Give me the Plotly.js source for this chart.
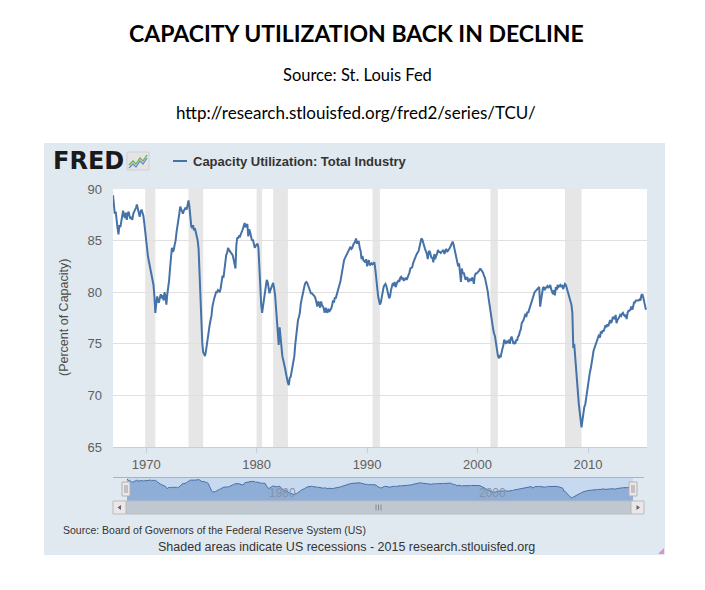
<!DOCTYPE html>
<html>
<head>
<meta charset="utf-8">
<script src="https://cdn.plot.ly/plotly-3.0.1.min.js"></script>
<style>
  html, body { margin: 0; padding: 0; background: #ffffff; }
  #chart { width: 705px; height: 590px; }
</style>
</head>
<body>
<div id="chart"></div>
<script>
// ---- Data: Capacity Utilization: Total Industry (TCU), monthly, % of capacity ----
const startYear = 1967;
const tcu1960s = [
  89.4, 88.0, 87.6, 87.8, 86.6, 86.2, 85.6, 86.5, 86.3, 86.9, 87.6, 87.9,
  87.4, 87.2, 87.7, 87.0, 87.6, 87.8, 87.4, 87.1, 87.3, 87.0, 87.6, 87.9,
  88.0, 88.2, 88.5, 88.1, 87.6, 87.3, 87.8, 88.0, 87.7, 87.4, 86.7, 85.9
];
const tcu1970s = [
  84.6, 84.0, 83.5, 83.0, 82.6, 82.1, 81.8, 81.4, 80.7, 79.6, 78.0, 78.9,
  79.6, 79.1, 79.0, 79.5, 79.8, 79.4, 79.7, 79.2, 80.0, 79.6, 78.8, 79.8,
  80.3, 81.2, 82.3, 83.2, 84.3, 83.9, 84.1, 84.6, 85.0, 85.8, 86.6, 87.2,
  87.6, 88.3, 88.0, 87.8, 87.6, 87.9, 88.1, 88.2, 88.0, 88.5, 88.9, 88.3,
  87.0, 86.4, 86.2, 86.5, 86.0, 86.2, 85.8, 85.4, 85.0, 84.2, 81.8, 78.9,
  76.4, 75.0, 74.2, 74.0, 73.8, 74.3, 75.0, 75.8, 76.5, 76.8, 77.3, 77.7,
  78.6, 79.3, 79.4, 79.7, 80.0, 80.0, 80.2, 80.1, 80.0, 80.4, 81.2, 81.6,
  81.4, 82.3, 83.0, 83.6, 83.8, 84.3, 84.1, 84.0, 83.8, 83.7, 83.6, 83.2,
  82.5, 82.3, 84.5, 85.3, 85.2, 85.5, 85.4, 85.6, 85.8, 86.1, 86.4, 86.7,
  86.3, 86.5, 86.6, 85.4, 86.1, 85.8, 85.5, 85.0, 85.1, 84.7, 84.3, 84.5
];
const tcu1980s = [
  84.6, 84.7, 84.3, 82.3, 80.3, 78.8, 78.0, 78.6, 79.4, 80.1, 80.8, 81.2,
  81.0, 80.5, 79.9, 80.2, 80.5, 80.8, 80.9, 80.4, 79.8, 78.6, 77.3, 76.2,
  74.9, 76.6, 75.6, 74.6, 73.8, 73.4, 73.1, 72.6, 72.1, 71.5, 71.2, 71.0,
  71.7, 71.8, 72.2, 72.9, 73.4, 73.8, 74.9, 75.9, 76.8, 77.3, 77.6, 78.0,
  78.9, 79.4, 79.8, 80.2, 80.6, 80.9, 81.0, 80.9, 80.6, 80.3, 80.2, 79.9,
  79.9, 79.8, 79.8, 79.6, 79.4, 79.0, 78.6, 79.1, 78.9, 78.5, 79.1, 78.8,
  78.6, 78.4, 78.0, 78.5, 78.2, 78.0, 78.4, 78.1, 78.3, 78.4, 78.7, 79.2,
  79.0, 79.5, 79.4, 79.8, 80.0, 80.3, 80.7, 81.0, 81.6, 82.2, 82.6, 83.1,
  83.3, 83.5, 83.6, 83.8, 84.0, 84.3, 84.4, 84.2, 84.3, 84.6, 84.7, 84.9,
  85.2, 84.7, 84.9, 84.9, 84.3, 84.0, 83.2, 83.5, 83.1, 83.0, 82.9, 83.2
];
const tcu1990s = [
  82.5, 82.9, 83.1, 82.6, 82.7, 82.8, 82.7, 82.8, 82.9, 82.2, 81.0, 80.2,
  79.6, 79.2, 78.8, 79.0, 79.6, 80.2, 80.5, 80.7, 80.8, 80.6, 80.3, 79.8,
  79.4, 79.6, 80.2, 80.6, 80.9, 80.6, 81.0, 80.5, 80.8, 81.0, 81.1, 81.0,
  81.4, 81.5, 81.3, 81.4, 81.1, 81.2, 81.4, 81.2, 81.4, 81.7, 81.9, 82.3,
  82.4, 82.4, 82.8, 83.1, 83.4, 83.5, 83.7, 83.9, 84.0, 84.4, 84.8, 85.2,
  85.1, 84.6, 84.5, 84.2, 84.0, 83.7, 83.2, 83.9, 84.0, 83.5, 83.3, 83.4,
  82.9, 83.7, 83.2, 83.5, 83.7, 84.1, 83.9, 83.9, 83.8, 83.9, 84.0, 84.1,
  83.7, 84.1, 84.2, 83.9, 84.0, 84.1, 84.3, 84.5, 84.7, 84.9, 84.6, 84.2,
  83.5, 83.2, 83.0, 82.5, 82.8, 81.3, 81.0, 82.3, 81.8, 81.9, 81.5, 81.2,
  81.4, 81.4, 81.0, 81.2, 81.3, 81.1, 81.4, 81.3, 80.8, 81.6, 81.8, 81.8
];
const tcu2000s = [
  81.9, 82.0, 82.1, 82.3, 82.2, 82.0, 81.9, 81.6, 81.4, 81.0, 80.6, 80.1,
  79.4, 78.7, 78.3, 77.6, 77.0, 76.4, 76.0, 75.7, 75.1, 74.4, 73.9, 73.6,
  73.8, 73.7, 74.2, 74.5, 74.8, 75.4, 75.2, 75.0, 75.3, 75.1, 75.4, 75.0,
  75.5, 75.7, 75.4, 75.0, 75.1, 75.0, 75.4, 75.3, 75.7, 75.8, 76.2, 76.4,
  77.0, 77.1, 77.3, 77.6, 77.9, 77.6, 78.1, 78.0, 78.3, 78.6, 78.8, 79.2,
  79.4, 79.8, 80.0, 80.1, 80.2, 80.3, 80.4, 80.5, 78.6, 79.4, 80.2, 80.4,
  80.5, 80.2, 80.4, 80.5, 80.6, 80.4, 80.6, 80.7, 80.3, 80.1, 79.8, 80.2,
  79.7, 80.5, 80.2, 80.7, 80.5, 80.6, 80.7, 80.5, 80.7, 80.3, 80.6, 80.8,
  80.7, 80.4, 80.2, 79.8, 79.5, 79.2, 78.8, 78.0, 74.6, 75.0, 73.8, 72.2,
  70.8, 70.1, 69.2, 68.4, 67.8, 66.9, 67.6, 68.3, 68.9, 69.1, 69.8, 70.2
];
const tcu2010s = [
  70.8, 71.5, 72.2, 72.6, 73.4, 73.7, 74.3, 74.6, 74.9, 75.1, 75.4, 75.6,
  75.9, 75.6, 76.2, 76.0, 76.3, 76.2, 76.6, 76.8, 76.6, 76.9, 76.7, 77.2,
  77.3, 77.0, 77.2, 77.6, 77.5, 77.4, 77.8, 77.0, 77.3, 77.4, 77.6, 77.8,
  77.7, 77.9, 78.0, 77.8, 77.7, 77.8, 77.4, 78.0, 78.2, 78.2, 78.3, 78.6,
  78.3, 78.6, 79.0, 79.0, 79.2, 79.2, 79.2, 79.2, 79.3, 79.2, 79.7, 79.8,
  79.5, 79.2, 78.7, 78.3
];
// NBER recessions (shaded)
const recessionStarts = ['1969-12-01', '1973-11-01', '1980-01-01', '1981-07-01', '1990-07-01', '2001-03-01', '2007-12-01'];
const recessionEnds   = ['1970-11-01', '1975-03-01', '1980-07-01', '1982-11-01', '1991-03-01', '2001-11-01', '2009-06-01'];
const yTicks = [65, 70, 75, 80, 85, 90];
const navLabels = ['1980', '2000'];

// ---- build series ----
const values = [].concat(tcu1960s, tcu1970s, tcu1980s, tcu1990s, tcu2000s, tcu2010s);
const dates = values.map((v, i) => {
  const y = startYear + Math.floor(i / 12);
  const m = (i % 12) + 1;
  return y + '-' + (m < 10 ? '0' + m : m) + '-01';
});

// pixel -> paper helpers (plot box: x 113..647, y 189..501)
const PL = 113, PW = 534, PB = 501, PH = 312;
const px = p => (p - PL) / PW;
const py = p => (PB - p) / PH;
const pathOf = (pts, close) => pts.map((q, i) => (i ? 'L' : 'M') + px(q[0]).toFixed(5) + ',' + py(q[1]).toFixed(5)).join(' ') + (close ? ' Z' : '');
const rectP = (x0, y0, x1, y1, fill, lineColor, lw, layer) => ({
  type: 'rect', xref: 'paper', yref: 'paper',
  x0: px(x0), x1: px(x1), y0: py(y1), y1: py(y0),
  fillcolor: fill, line: { color: lineColor || fill, width: lw || 0 }, layer: layer || 'below'
});
const lineP = (x0, y0, x1, y1, color, w) => ({
  type: 'line', xref: 'paper', yref: 'paper',
  x0: px(x0), x1: px(x1), y0: py(y0), y1: py(y1),
  line: { color: color, width: w || 1 }, layer: 'above'
});

const shapes = [];
// FRED panel and plot area
shapes.push(rectP(44, 143, 665, 555, '#e1e9f0'));
shapes.push(rectP(113, 189, 647, 447, '#ffffff'));
// navigator mask
shapes.push(rectP(127, 477, 633, 501, '#c7d9ee'));
// recession bands
recessionStarts.forEach((s, i) => {
  shapes.push({ type: 'rect', xref: 'x', yref: 'y domain', x0: s, x1: recessionEnds[i], y0: 0, y1: 1,
    fillcolor: '#e6e6e6', line: { width: 0 }, layer: 'below' });
});
// navigator top outline
shapes.push(lineP(113, 477.5, 644, 477.5, '#b2b1b6', 1));
// scrollbar
shapes.push(rectP(126, 501, 631, 514, '#bfc8d1', '#b6bec6', 1, 'above'));
shapes.push(rectP(113, 501, 126, 514, '#ebe7e8', '#bbbbbb', 1, 'above'));
shapes.push(rectP(631, 501, 644, 514, '#ebe7e8', '#bbbbbb', 1, 'above'));
shapes.push({ type: 'path', xref: 'paper', yref: 'paper', path: pathOf([[117.5, 507.5], [121, 505], [121, 510]], true),
  fillcolor: '#666666', line: { width: 0 }, layer: 'above' });
shapes.push({ type: 'path', xref: 'paper', yref: 'paper', path: pathOf([[640, 507.5], [636.5, 505], [636.5, 510]], true),
  fillcolor: '#666666', line: { width: 0 }, layer: 'above' });
[376, 378.5, 381].forEach(x => shapes.push(lineP(x, 504.5, x, 510.5, '#8a8a8a', 1)));
// navigator handles
[[122, 130], [629, 637]].forEach(h => {
  shapes.push(rectP(h[0], 482, h[1], 496, '#ebe7e8', '#b2b1b6', 1, 'above'));
  shapes.push(lineP(h[0] + 3, 485, h[0] + 3, 493, '#999999', 1));
  shapes.push(lineP(h[0] + 5, 485, h[0] + 5, 493, '#999999', 1));
});
// legend line
shapes.push(lineP(173, 161, 187, 161, '#4572a7', 2));
// FRED icon
shapes.push(rectP(127, 152, 149, 170, '#e4e4e4', '#d0d0d0', 1, 'above'));
shapes.push({ type: 'path', xref: 'paper', yref: 'paper',
  path: pathOf([[129, 165], [133, 161], [136, 164], [140, 158], [143, 161], [147, 155]]),
  line: { color: '#6fae4f', width: 1.3 }, layer: 'above' });
shapes.push({ type: 'path', xref: 'paper', yref: 'paper',
  path: pathOf([[129, 168], [133, 164], [136, 167], [140, 161], [143, 164], [147, 158]]),
  line: { color: '#5b8fc7', width: 1.3 }, layer: 'above' });
// resize mark
shapes.push({ type: 'path', xref: 'paper', yref: 'paper', path: pathOf([[664, 548], [664, 554], [658, 554]], true),
  fillcolor: '#e58bd0', line: { width: 0 }, layer: 'above' });

const annotations = [
  { text: '<b>CAPACITY UTILIZATION BACK IN DECLINE</b>', x: px(356), y: py(33), xref: 'paper', yref: 'paper',
    showarrow: false, xanchor: 'center', yanchor: 'middle', font: { family: 'Lato', size: 23, color: '#000000' } },
  { text: 'Source: St. Louis Fed', x: px(357), y: py(75), xref: 'paper', yref: 'paper',
    showarrow: false, xanchor: 'center', yanchor: 'middle', font: { family: 'Lato', size: 16.5, color: '#000000' } },
  { text: 'http://research.stlouisfed.org/fred2/series/TCU/', x: px(356), y: py(112), xref: 'paper', yref: 'paper',
    showarrow: false, xanchor: 'center', yanchor: 'middle', font: { family: 'Lato', size: 17, color: '#000000' } },
  { text: '<b>FRED</b>', x: px(51), y: py(161), xref: 'paper', yref: 'paper',
    showarrow: false, xanchor: 'left', yanchor: 'middle', font: { family: 'DejaVu Sans', size: 24, color: '#1a1a1a' } },
  { text: '<b>Capacity Utilization: Total Industry</b>', x: px(191), y: py(161), xref: 'paper', yref: 'paper',
    showarrow: false, xanchor: 'left', yanchor: 'middle', font: { family: 'Liberation Sans', size: 13, color: '#333333' } },
  { text: '(Percent of Capacity)', x: px(64), y: py(318), xref: 'paper', yref: 'paper', textangle: -90,
    showarrow: false, xanchor: 'center', yanchor: 'middle', font: { family: 'Liberation Sans', size: 12.5, color: '#4d4d4d' } },
  { text: 'Source: Board of Governors of the Federal Reserve System (US)', x: px(61), y: py(530), xref: 'paper', yref: 'paper',
    showarrow: false, xanchor: 'left', yanchor: 'middle', font: { family: 'Liberation Sans', size: 10.5, color: '#333333' } },
  { text: 'Shaded areas indicate US recessions - 2015 research.stlouisfed.org', x: px(346), y: py(547), xref: 'paper', yref: 'paper',
    showarrow: false, xanchor: 'center', yanchor: 'middle', font: { family: 'Liberation Sans', size: 12.5, color: '#333333' } }
];
navLabels.forEach(l => annotations.push({
  text: l, x: l + '-01-01', y: py(493), xref: 'x2', yref: 'paper', xshift: 4,
  showarrow: false, xanchor: 'left', yanchor: 'middle', font: { family: 'Liberation Sans', size: 12, color: '#8793a5' }
}));

const traces = [
  { x: dates, y: values, type: 'scatter', mode: 'lines', xaxis: 'x', yaxis: 'y',
    line: { color: '#4572a7', width: 2 }, hoverinfo: 'skip', name: 'Capacity Utilization: Total Industry' },
  { x: dates, y: values, type: 'scatter', mode: 'lines', xaxis: 'x2', yaxis: 'y2',
    line: { color: '#4572a7', width: 1 }, fill: 'tozeroy', fillcolor: '#8eadd7', hoverinfo: 'skip' }
];

const tickFont = { family: 'Liberation Sans', size: 13, color: '#606060' };
const layout = {
  width: 705, height: 590,
  margin: { l: 113, r: 58, t: 189, b: 89, pad: 0 },
  paper_bgcolor: '#ffffff', plot_bgcolor: '#ffffff',
  showlegend: false,
  xaxis: { domain: [0, 1], anchor: 'y', type: 'date', range: ['1967-01-01', '2015-05-05'],
    tick0: '1970-01-01', dtick: 'M120', tickformat: '%Y', ticks: 'outside', ticklen: 5, tickcolor: '#c0d0e0',
    showgrid: false, showline: true, linecolor: '#c0d0e0', linewidth: 1, zeroline: false,
    tickfont: tickFont, fixedrange: true },
  yaxis: { domain: [py(447), 1], anchor: 'x', range: [65, 90], tickmode: 'array', tickvals: yTicks,
    showgrid: true, gridcolor: '#e0e0e0', gridwidth: 1, zeroline: false, showline: false, ticks: '',
    ticklabelstandoff: 10, tickfont: tickFont, fixedrange: true },
  xaxis2: { domain: [px(127), px(633)], anchor: 'y2', type: 'date', range: ['1967-01-01', '2015-04-01'],
    visible: false, fixedrange: true },
  yaxis2: { domain: [0, py(477)], anchor: 'x2', range: [63.4, 91.8], visible: false, fixedrange: true },
  shapes: shapes,
  annotations: annotations
};

Plotly.newPlot('chart', traces, layout, { staticPlot: true, displayModeBar: false });
</script>
</body>
</html>
